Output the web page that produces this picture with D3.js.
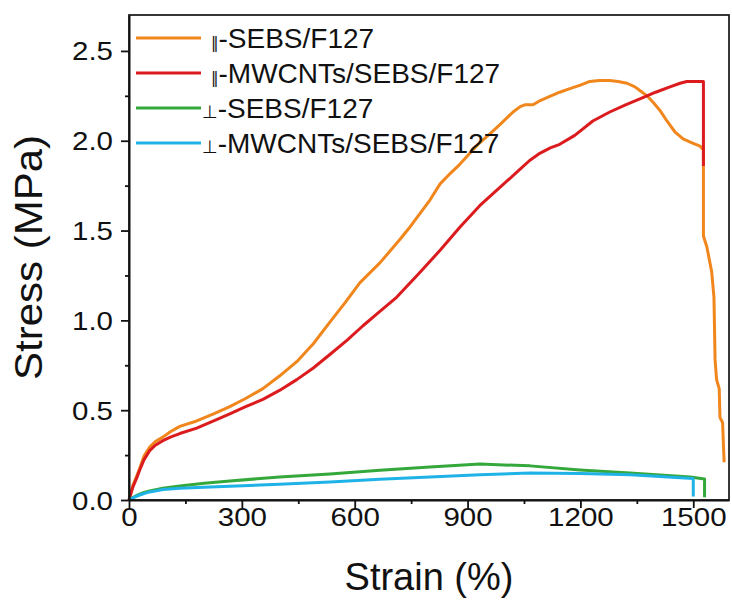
<!DOCTYPE html>
<html>
<head>
<meta charset="utf-8">
<script src="https://cdn.jsdelivr.net/npm/d3@7"></script>
<style>
    body { margin: 0; background: #fff; }
    text { font-family: Arial, "Liberation Sans", sans-serif; fill: #111; }
</style>
</head>
<body>
<div id="chart-container"></div>
<script>
// Legend labels: orientation symbol + sample name
const seriesSymbols = ["\u2016", "\u2016", "\u22A5", "\u22A5"];
const seriesNames = ["-SEBS/F127", "-MWCNTs/SEBS/F127", "-SEBS/F127", "-MWCNTs/SEBS/F127"];
const seriesColors = ["#F0861C", "#DB1B1E", "#35A83C", "#1FB2E6"];

// Tick values
const xTicks = [0, 300, 600, 900, 1200, 1500];
const xMinorTicks = [150, 450, 750, 1050, 1350];
const yTicks = [0, 0.5, 1.0, 1.5, 2.0, 2.5];
const yMinorTicks = [0.25, 0.75, 1.25, 1.75, 2.25];

// ||-SEBS/F127 (orange)
const strainA = [0, 5, 10, 20, 29, 40, 55, 70, 90, 110, 135, 180, 225, 268, 310, 356, 400, 446, 490, 534, 575, 614, 667, 720, 747, 800, 827, 855, 880, 906, 933, 960, 986, 1021, 1040, 1052, 1074, 1090, 1111, 1145, 1172, 1200, 1225, 1250, 1278, 1300, 1324, 1345, 1358, 1377, 1395, 1411, 1430, 1451, 1473, 1495, 1518, 1527, 1527, 1536, 1549, 1555, 1558, 1562, 1569, 1571, 1578, 1582];
const stressA = [0, 0.04, 0.08, 0.13, 0.18, 0.245, 0.295, 0.325, 0.35, 0.38, 0.41, 0.44, 0.48, 0.52, 0.565, 0.62, 0.69, 0.77, 0.87, 0.99, 1.10, 1.21, 1.32, 1.45, 1.52, 1.67, 1.76, 1.82, 1.87, 1.93, 1.99, 2.04, 2.09, 2.16, 2.19, 2.20, 2.20, 2.22, 2.24, 2.27, 2.29, 2.31, 2.33, 2.335, 2.335, 2.33, 2.32, 2.30, 2.28, 2.25, 2.21, 2.17, 2.11, 2.05, 2.01, 1.99, 1.97, 1.95, 1.47, 1.41, 1.27, 1.13, 0.78, 0.67, 0.62, 0.46, 0.43, 0.21];

// ||-MWCNTs/SEBS/F127 (red)
const strainB = [0, 5, 10, 20, 29, 40, 55, 70, 90, 110, 135, 180, 225, 268, 310, 356, 400, 446, 490, 534, 580, 622, 667, 712, 770, 827, 880, 933, 986, 1039, 1065, 1092, 1120, 1145, 1185, 1233, 1278, 1320, 1366, 1400, 1438, 1465, 1483, 1527, 1527];
const stressB = [0, 0.035, 0.07, 0.12, 0.17, 0.225, 0.275, 0.305, 0.33, 0.35, 0.37, 0.40, 0.44, 0.48, 0.52, 0.56, 0.61, 0.67, 0.735, 0.81, 0.89, 0.97, 1.05, 1.13, 1.26, 1.39, 1.52, 1.64, 1.74, 1.84, 1.89, 1.93, 1.96, 1.98, 2.03, 2.11, 2.16, 2.20, 2.24, 2.27, 2.30, 2.32, 2.33, 2.33, 1.86];

// _|_-SEBS/F127 (green)
const strainC = [0, 10, 25, 40, 55, 90, 135, 200, 268, 400, 534, 667, 800, 933, 1066, 1199, 1332, 1492, 1530, 1530];
const stressC = [0, 0.013, 0.03, 0.042, 0.05, 0.065, 0.078, 0.093, 0.106, 0.128, 0.145, 0.165, 0.184, 0.20, 0.19, 0.167, 0.15, 0.128, 0.117, 0.015];

// _|_-MWCNTs/SEBS/F127 (blue)
const strainD = [0, 10, 25, 40, 55, 90, 135, 200, 268, 400, 534, 667, 800, 933, 1066, 1199, 1332, 1500, 1500];
const stressD = [0, 0.012, 0.025, 0.036, 0.045, 0.058, 0.066, 0.071, 0.076, 0.088, 0.10, 0.115, 0.128, 0.14, 0.15, 0.147, 0.14, 0.12, 0.02];

const series = [
    [strainA, stressA],
    [strainB, stressB],
    [strainC, stressC],
    [strainD, stressD]
].map((s, i) => ({
    symbol: seriesSymbols[i],
    name: seriesNames[i],
    color: seriesColors[i],
    points: s[0].map((x, j) => [x, s[1][j]])
}));

const width = 732;
const height = 601;
const margin = { top: 15, right: 3, bottom: 101, left: 129 };

const svg = d3
    .select("#chart-container")
    .append("svg")
    .attr("width", width)
    .attr("height", height);

const xScale = d3
    .scaleLinear()
    .domain([0, 1595])
    .range([margin.left, width - margin.right]);

const yScale = d3
    .scaleLinear()
    .domain([0, 2.7])
    .range([height - margin.bottom, margin.top]);

// Curves
const line = d3
    .line()
    .x((d) => xScale(d[0]))
    .y((d) => yScale(d[1]))
    .curve(d3.curveLinear);

svg
    .selectAll("path.curve")
    .data(series)
    .enter()
    .append("path")
    .attr("class", "curve")
    .attr("d", (d) => line(d.points))
    .attr("fill", "none")
    .attr("stroke", (d) => d.color)
    .attr("stroke-width", 3)
    .attr("stroke-linejoin", "round");

// Frame (top and right)
svg
    .append("rect")
    .attr("x", xScale(0))
    .attr("y", yScale(2.7))
    .attr("width", xScale(1595) - xScale(0))
    .attr("height", yScale(0) - yScale(2.7))
    .attr("fill", "none")
    .attr("stroke", "#222")
    .attr("stroke-width", 1.8);

// X axis
const xAxis = svg
    .append("g")
    .attr("transform", `translate(0, ${yScale(0)})`)
    .call(d3.axisBottom(xScale).tickValues(xTicks).tickFormat(d3.format("d")).tickSize(8).tickSizeOuter(0));

svg
    .append("g")
    .attr("transform", `translate(0, ${yScale(0)})`)
    .call(d3.axisBottom(xScale).tickValues(xMinorTicks).tickFormat("").tickSize(4).tickSizeOuter(0))
    .select(".domain").remove();

xAxis
    .selectAll("text")
    .attr("y", 0)
    .attr("dy", 0)
    .attr("transform", "translate(0, 26) scale(1.18, 1)")
    .style("font-size", "25px");

// Y axis
const yAxis = svg
    .append("g")
    .attr("transform", `translate(${xScale(0)}, 0)`)
    .call(d3.axisLeft(yScale).tickValues(yTicks).tickFormat(d3.format(".1f")).tickSize(8).tickSizeOuter(0));

svg
    .append("g")
    .attr("transform", `translate(${xScale(0)}, 0)`)
    .call(d3.axisLeft(yScale).tickValues(yMinorTicks).tickFormat("").tickSize(4).tickSizeOuter(0))
    .select(".domain").remove();

yAxis
    .selectAll("text")
    .attr("x", 0)
    .attr("dy", "0.36em")
    .attr("transform", "translate(-16, 0) scale(1.18, 1)")
    .style("font-size", "25px");

svg.selectAll(".domain").attr("stroke", "#111").attr("stroke-width", 2);
svg.selectAll(".tick line").attr("stroke", "#111").attr("stroke-width", 1.8);

// Axis titles
svg
    .append("text")
    .attr("x", (xScale(0) + xScale(1595)) / 2)
    .attr("y", 590)
    .attr("text-anchor", "middle")
    .style("font-size", "38px")
    .text("Strain (%)");

svg
    .append("text")
    .attr("transform", `translate(42, ${(yScale(0) + yScale(2.7)) / 2}) rotate(-90)`)
    .attr("text-anchor", "middle")
    .attr("textLength", 245)
    .attr("lengthAdjust", "spacingAndGlyphs")
    .style("font-size", "38px")
    .text("Stress (MPa)");

// Legend
const legend = svg
    .selectAll("g.legend")
    .data(series)
    .enter()
    .append("g")
    .attr("class", "legend")
    .attr("transform", (d, i) => `translate(0, ${48 + i * 35})`);

legend
    .append("line")
    .attr("x1", 136)
    .attr("x2", 201)
    .attr("y1", -10)
    .attr("y2", -10)
    .attr("stroke", (d) => d.color)
    .attr("stroke-width", 3);

const legendText = legend
    .append("text")
    .attr("x", (d) => (d.symbol === "\u22A5" ? 202 : 211))
    .attr("y", 0);

legendText
    .append("tspan")
    .style("font-family", "'DejaVu Sans'")
    .style("font-size", (d) => (d.symbol === "\u22A5" ? "18px" : "15px"))
    .text((d) => d.symbol);

legendText
    .append("tspan")
    .style("font-size", "28px")
    .text((d) => d.name);
</script>
</body>
</html>
